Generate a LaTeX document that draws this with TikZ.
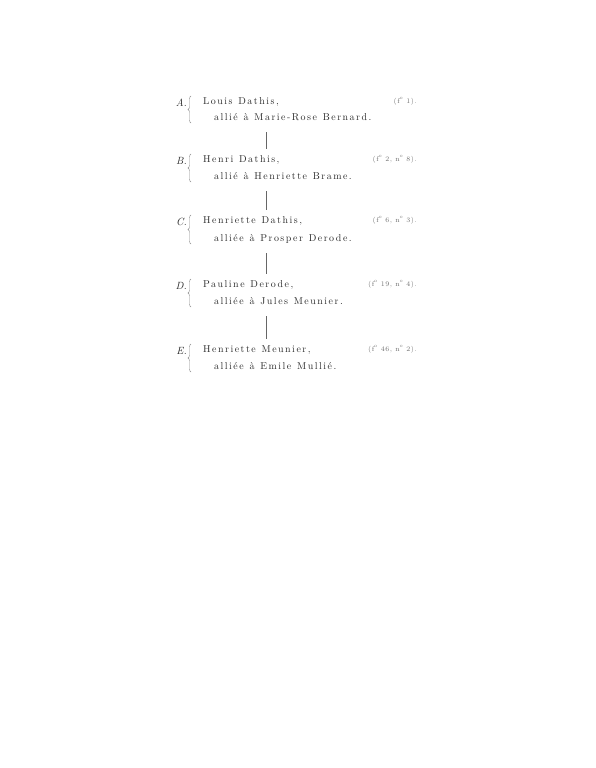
\documentclass[tikz,border=0pt]{standalone}
\usepackage{fontspec}
\setmainfont{lmroman10-regular.otf}[ItalicFont=lmroman10-italic.otf,BoldFont=lmroman10-bold.otf]
\newfontfamily\spacedrm{lmroman10-regular.otf}[LetterSpace=15,WordSpace=1.2]
\newfontfamily\spacedsmall{lmroman7-regular.otf}[LetterSpace=8]
\usetikzlibrary{positioning,calc,decorations.pathreplacing}
\definecolor{inkgray}{HTML}{2A2A2A}
\definecolor{refgray}{HTML}{6E6E6E}
\definecolor{rulegray}{HTML}{666666}
\definecolor{bracegray}{HTML}{8A8A8A}
\tikzset{
  person/.style={anchor=base west,inner sep=0pt,text height=7pt,text depth=2pt,
    text=inkgray,font=\spacedrm\fontsize{10}{12}\selectfont},
  tag/.style={anchor=base east,inner sep=0pt,text=inkgray,font=\fontsize{10.5}{12}\selectfont\itshape},
  folio/.style={anchor=base east,inner sep=0pt,text=refgray,
    font=\spacedsmall\fontsize{7}{8}\selectfont},
  bar/.style={draw=rulegray,line width=0.5pt,shorten <=10pt,shorten >=6pt},
  bracket/.style={draw=bracegray,line width=0.4pt,decorate,decoration={brace,amplitude=3pt,mirror}}
}
\begin{document}
\begin{tikzpicture}[x=1bp,y=-1bp]
		\useasboundingbox (0,0) rectangle (596,768);
		% column of the bars
		\coordinate (barx) at (266,0);
		% draw the five generations
		\foreach \g/\ya/\yb/\nom/\conj/\fol in {
		  A/104/120/{Louis Dathis,}/{allié à Marie-Rose Bernard.}/{(f\textsuperscript{o} 1).},
		  B/162/179/{Henri Dathis,}/{allié à Henriette Brame.}/{(f\textsuperscript{o} 2, n\textsuperscript{o} 8).},
		  C/223/241/{Henriette Dathis,}/{alliée à Prosper Derode.}/{(f\textsuperscript{o} 6, n\textsuperscript{o} 3).},
		  D/287/304/{Pauline Derode,}/{alliée à Jules Meunier.}/{(f\textsuperscript{o} 19, n\textsuperscript{o} 4).},
		  E/352/369/{Henriette Meunier,}/{alliée à Emile Mullié.}/{(f\textsuperscript{o} 46, n\textsuperscript{o} 2).}}
		{
		  \node[person] (name\g) at (203,\ya) {\nom};
		  \node[person] (conj\g) at (214,\yb) {\conj};
		  \node[tag] (tag\g) at (187,\ya+2) {\g.};
		  \node[folio] (fol\g) at (417,\ya-1) {\fol};
		  \draw[bracket] (191,\ya-8) -- (191,\yb+3);
		}
		% draw vertical lines
		\foreach \a/\b in {A/B,B/C,C/D,D/E}
		\draw[bar] (conj\a.south -| barx) -- (name\b.north -| barx);
\end{tikzpicture}
\end{document}
